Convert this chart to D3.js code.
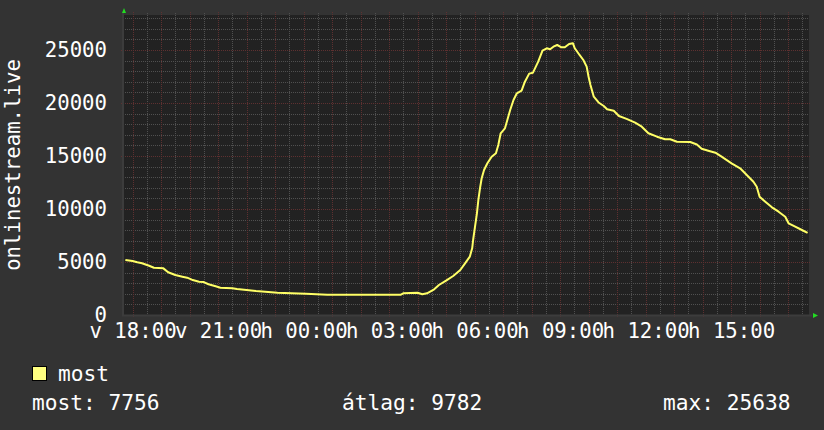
<!DOCTYPE html>
<html><head><meta charset="utf-8">
<script src="https://cdn.jsdelivr.net/npm/d3@7"></script>
<style>
html,body{margin:0;padding:0;background:#333333;}
svg{display:block;}
text{font-family:"DejaVu Sans Mono",monospace;fill:#ffffff;}
</style></head>
<body>
<script>
// ---- data (minutes since Sunday 00:00) ----
const times = [1065,1080,1090,1100,1115,1125,1145,1155,1170,1185,1195,1205,1220,1230,1240,1255,1265,1290,1300,1320,1340,1385,1445,1490,1585,1645,1650,1680,1690,1700,1715,1725,1740,1755,1770,1780,1790,1795,1797,1801,1805,1808,1812,1815,1820,1827,1836,1845,1850,1855,1864,1869,1875,1882,1889,1899,1906,1915,1923,1934,1943,1952,1959,1966,1974,1983,1990,1999,2007,2011,2021,2029,2036,2040,2044,2051,2061,2072,2079,2093,2104,2120,2138,2152,2166,2184,2201,2212,2226,2254,2268,2278,2292,2307,2320,2341,2359,2373,2387,2394,2400,2412,2426,2440,2454,2461,2475,2489,2501];
const values = [5190,5090,4970,4880,4650,4460,4400,4030,3770,3615,3520,3330,3140,3110,2900,2710,2575,2520,2450,2360,2264,2104,2009,1915,1915,1915,2047,2104,1953,2047,2425,2830,3236,3680,4245,4877,5500,6290,7075,8330,9594,10850,12100,12900,13680,14310,14930,15255,16040,17140,17610,18400,19340,20280,20915,21160,22010,22770,22860,23900,24930,25160,25070,25310,25470,25255,25255,25570,25638,25160,24530,24056,23425,22480,21700,20594,20050,19717,19406,19274,18774,18500,18142,17764,17141,16821,16575,16575,16349,16320,16080,15680,15500,15311,14934,14311,13840,13208,12575,12104,11160,10689,10160,9745,9274,8651,8330,8019,7756];
const timeDomain = [1060, 2504];
const valueMax = 28300;
const xTickTimes = [1080,1260,1440,1620,1800,1980,2160,2340];
const xTickLabels = ["v 18:00","v 21:00","h 00:00","h 03:00","h 06:00","h 09:00","h 12:00","h 15:00"];
const yTicks = [0,5000,10000,15000,20000,25000];
const yTitle = "onlinestream.live";
const seriesName = "most";
const statLabels = ["most: 7756","átlag: 9782","max: 25638"];

const W = 824, H = 430;
const L = 123, R = 809, T = 15, B = 315;
const svg = d3.select("body").append("svg").attr("width", W).attr("height", H);
svg.append("rect").attr("width", W).attr("height", H).attr("fill", "#333333");
svg.append("rect").attr("x", L).attr("y", T).attr("width", R - L).attr("height", B - T).attr("fill", "#222222");

const x = d3.scaleLinear().domain(timeDomain).range([L, R]);
const y = d3.scaleLinear().domain([0, valueMax]).range([B, T]);

// grid
const g = svg.append("g").attr("shape-rendering", "crispEdges");
const minorY = d3.range(1000, valueMax, 1000).filter(v => v % 5000 !== 0);
const majorY = d3.range(5000, valueMax, 5000);
const minorX = d3.range(1050, timeDomain[1], 30).filter(t => t % 60 !== 0 && t > timeDomain[0]);
const majorX = d3.range(1080, timeDomain[1], 60);
const minorCol = "#505050", majorCol = "#5e3030";
g.selectAll(".mny").data(minorY).join("line")
  .attr("x1", L).attr("x2", R).attr("y1", d => Math.round(y(d)) + 0.5).attr("y2", d => Math.round(y(d)) + 0.5)
  .attr("stroke", minorCol).attr("stroke-dasharray", "1,1");
g.selectAll(".mnx").data(minorX).join("line")
  .attr("y1", T - 2).attr("y2", B + 2).attr("x1", d => Math.round(x(d)) + 0.5).attr("x2", d => Math.round(x(d)) + 0.5)
  .attr("stroke", minorCol).attr("stroke-dasharray", "1,1");
g.selectAll(".mjy").data(majorY).join("line")
  .attr("x1", L - 2).attr("x2", R + 2).attr("y1", d => Math.round(y(d)) + 0.5).attr("y2", d => Math.round(y(d)) + 0.5)
  .attr("stroke", majorCol).attr("stroke-dasharray", "1,1");
g.selectAll(".mjx").data(majorX).join("line")
  .attr("y1", T - 3).attr("y2", B + 3).attr("x1", d => Math.round(x(d)) + 0.5).attr("x2", d => Math.round(x(d)) + 0.5)
  .attr("stroke", majorCol).attr("stroke-dasharray", "1,1");

// axis lines
svg.append("line").attr("x1", L).attr("x2", L).attr("y1", T - 2).attr("y2", B + 1).attr("stroke", "#3c3c3c").attr("stroke-width", 2);
svg.append("line").attr("x1", L - 1).attr("x2", R + 3).attr("y1", B + 0.5).attr("y2", B + 0.5).attr("stroke", "#3c3c3c").attr("stroke-width", 2);
// arrows
svg.append("path").attr("d", `M${L-1},${T-2} L${L+3},${T-2} L${L+1},${T-7} Z`).attr("fill", "#22dd22");
svg.append("path").attr("d", `M${R+4},${B-2} L${R+4},${B+3} L${R+9},${B+0.5} Z`).attr("fill", "#22dd22");

// axes labels
const ax = svg.append("g").attr("transform", `translate(0,${B})`)
  .call(d3.axisBottom(x).tickValues(xTickTimes).tickFormat((d, i) => xTickLabels[i]).tickSize(0).tickPadding(8));
ax.select(".domain").remove();
ax.selectAll("text").attr("fill", "#ffffff").style("font-family", '"DejaVu Sans Mono", monospace').style("font-size", "20.7px");

const ay = svg.append("g").attr("transform", `translate(${L},0)`)
  .call(d3.axisLeft(y).tickValues(yTicks).tickFormat(d3.format("d")).tickSize(0).tickPadding(16));
ay.select(".domain").remove();
ay.selectAll("text").attr("fill", "#ffffff").style("font-family", '"DejaVu Sans Mono", monospace').style("font-size", "20.7px");

svg.append("text").attr("transform", "translate(20,165) rotate(-90)")
  .attr("text-anchor", "middle").style("font-size", "20.7px").text(yTitle);

// line
const line = d3.line().x((d, i) => x(times[i])).y(d => y(d));
svg.append("path").datum(values).attr("d", line)
  .attr("fill", "none").attr("stroke", "#ffff66").attr("stroke-width", 2).attr("stroke-linejoin", "round");

// legend
svg.append("rect").attr("x", 32.5).attr("y", 366.5).attr("width", 14).attr("height", 14)
  .attr("fill", "#ffff80").attr("stroke", "#000000");
svg.append("text").attr("x", 58).attr("y", 381).style("font-size", "21.2px").text(seriesName);
const statX = [32, 342, 663];
svg.selectAll(".stat").data(statLabels).join("text")
  .attr("x", (d, i) => statX[i]).attr("y", 409.5).style("font-size", "21.2px").text(d => d);
</script>
</body></html>
